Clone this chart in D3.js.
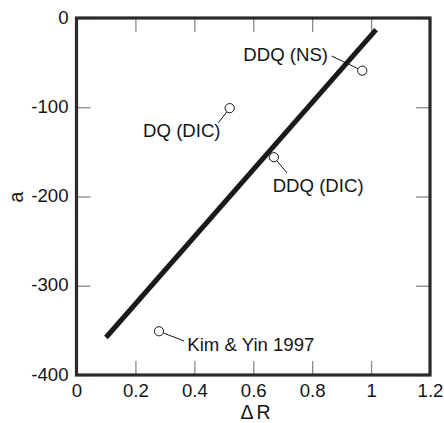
<!DOCTYPE html>
<html>
<head>
<meta charset="utf-8">
<script src="https://cdn.jsdelivr.net/npm/d3@7"></script>
<style>
  html, body { margin: 0; padding: 0; background: #fff; }
  svg { display: block; font-family: Arial, "Liberation Sans", Helvetica, sans-serif; }
</style>
</head>
<body>
<svg id="chart" width="444" height="423"></svg>
<script>
// ---- data ----
const xTicks = [0, 0.2, 0.4, 0.6, 0.8, 1, 1.2];
const yTicks = [0, -100, -200, -300, -400];
const xTickLabels = ["0", "0.2", "0.4", "0.6", "0.8", "1", "1.2"];
const yTickLabels = ["0", "-100", "-200", "-300", "-400"];

const pointNames = ["DDQ (NS)", "DQ (DIC)", "DDQ (DIC)", "Kim & Yin 1997"];
const pointX = [0.97, 0.52, 0.67, 0.28];
const pointY = [-59, -101, -156, -351];

const fitX = [0.1, 1.017];
const fitY = [-358, -13];

// label anchor & leader end (data units), text-anchor
const labelX = [0.854, 0.489, 0.666, 0.376];
const labelY = [-48.2, -133, -194.6, -372.8];
const labelAnchor = ["end", "end", "start", "start"];
const leaderX = [0.866, 0.481, 0.715, 0.365];
const leaderY = [-42.6, -117.6, -173.7, -361.9];

const xTitle = "ΔR";
const yTitle = "a";

// ---- layout ----
const svg = d3.select("#chart");
const L = 76.5, R = 430, T = 18, B = 375;
const x = d3.scaleLinear().domain([0, 1.2]).range([L, R]);
const y = d3.scaleLinear().domain([-400, 0]).range([B, T]);
const tickColor = "#8a8a8a";
const ink = "#151515";
const fs = "18.6px";

function styleAxis(g) {
  g.select(".domain").remove();
  g.selectAll(".tick line").attr("stroke", tickColor).attr("stroke-width", 1.3);
  g.selectAll(".tick text").attr("fill", ink).style("font-size", fs)
    .style("font-family", "Arial, 'Liberation Sans', sans-serif");
}

// bottom axis
svg.append("g").attr("transform", `translate(0,${B})`)
  .call(d3.axisBottom(x).tickValues(xTicks).tickFormat((d, i) => xTickLabels[i])
    .tickSizeInner(-14).tickSizeOuter(0).tickPadding(8))
  .call(styleAxis)
  .call(g => g.selectAll(".tick text").attr("y", 22).attr("dy", 0));

// top axis (ticks only)
svg.append("g").attr("transform", `translate(0,${T})`)
  .call(d3.axisTop(x).tickValues(xTicks).tickFormat("").tickSizeInner(-14).tickSizeOuter(0))
  .call(styleAxis);

// left axis
svg.append("g").attr("transform", `translate(${L},0)`)
  .call(d3.axisLeft(y).tickValues(yTicks).tickFormat((d, i) => yTickLabels[i])
    .tickSizeInner(-14).tickSizeOuter(0))
  .call(styleAxis)
  .call(g => g.selectAll(".tick text").attr("x", -8).attr("dy", 5));

// right axis (ticks only)
svg.append("g").attr("transform", `translate(${R},0)`)
  .call(d3.axisRight(y).tickValues(yTicks).tickFormat("").tickSizeInner(-14).tickSizeOuter(0))
  .call(styleAxis);

// frame
svg.append("rect")
  .attr("x", L).attr("y", T).attr("width", R - L).attr("height", B - T)
  .attr("fill", "none").attr("stroke", "#2a2a2a").attr("stroke-width", 3.2);

// fit line
const fitData = fitX.map((v, i) => [v, fitY[i]]);
svg.append("path")
  .datum(fitData)
  .attr("d", d3.line().x(d => x(d[0])).y(d => y(d[1])))
  .attr("stroke", "#1a1a1a").attr("stroke-width", 5).attr("fill", "none");

// leaders
const rad = 4.6;
pointNames.forEach((n, i) => {
  const cx = x(pointX[i]), cy = y(pointY[i]);
  const ex = x(leaderX[i]), ey = y(leaderY[i]);
  const dx = ex - cx, dy = ey - cy, len = Math.hypot(dx, dy);
  svg.append("line")
    .attr("x1", cx + dx / len * rad).attr("y1", cy + dy / len * rad)
    .attr("x2", ex).attr("y2", ey)
    .attr("stroke", ink).attr("stroke-width", 1);
});

// points
svg.selectAll("circle.pt")
  .data(pointNames.map((n, i) => ({ n, x: pointX[i], y: pointY[i] })))
  .enter().append("circle")
  .attr("class", "pt")
  .attr("cx", d => x(d.x)).attr("cy", d => y(d.y)).attr("r", rad)
  .attr("fill", "#fff").attr("stroke", ink).attr("stroke-width", 1);

// labels
svg.selectAll("text.lbl")
  .data(pointNames.map((n, i) => ({ n, i })))
  .enter().append("text")
  .attr("class", "lbl")
  .attr("x", d => x(labelX[d.i])).attr("y", d => y(labelY[d.i]))
  .attr("text-anchor", d => labelAnchor[d.i])
  .attr("fill", ink).style("font-size", fs)
  .text(d => d.n);

// axis titles
svg.append("text")
  .attr("x", 257).attr("y", 419).attr("text-anchor", "middle")
  .attr("fill", ink).style("font-size", "19.5px")
  .style("letter-spacing", "3px")
  .text(xTitle);

svg.append("text")
  .attr("transform", `translate(23,197) rotate(-90)`)
  .attr("text-anchor", "middle")
  .attr("fill", ink).style("font-size", "19.5px")
  .text(yTitle);
</script>
</body>
</html>
